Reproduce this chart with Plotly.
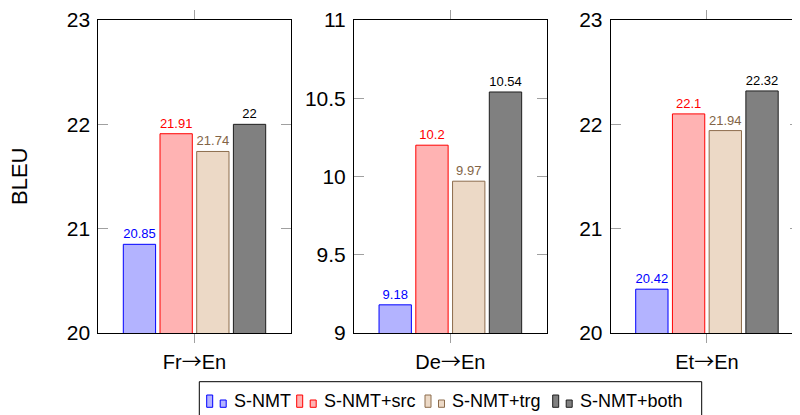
import plotly.graph_objects as go

# ---------------- data ----------------
pairs = ["Fr→En", "De→En", "Et→En"]
series_names = ["S-NMT", "S-NMT+src", "S-NMT+trg", "S-NMT+both"]
snmt = [20.85, 9.18, 20.42]
snmt_src = [21.91, 10.2, 22.1]
snmt_trg = [21.74, 9.97, 21.94]
snmt_both = [22, 10.54, 22.32]
y_ranges = [[20, 23], [9, 11], [20, 23]]
y_dticks = [1, 0.5, 1]
y_title = "BLEU"

# ---------------- styles ----------------
OFF = 8                      # page body margin of the browser
W, H = 800 - OFF, 415 - OFF
PLOT_TOP, PLOT_BOTTOM = 20 - OFF, 333 - OFF
FONT = "Liberation Sans, Arial, sans-serif"
fills = ["rgb(179,179,255)", "rgb(255,179,179)", "rgb(236,217,198)", "rgb(128,128,128)"]
lines = ["rgb(0,0,255)", "rgb(255,0,0)", "rgb(140,108,76)", "rgb(30,30,30)"]
txtcol = ["rgb(0,0,255)", "rgb(255,0,0)", "rgb(130,100,70)", "rgb(0,0,0)"]
panel_screen = [(98.3, 290.7), (354.0, 546.7), (610.7, 800.0)]
full_w = 192.5


def sx(x):
    return (x - OFF) / W


def sy(y):
    return (PLOT_BOTTOM - (y - OFF)) / (PLOT_BOTTOM - PLOT_TOP)


def label_html(t):
    return t.replace("→", "<span style='font-family:Noto Sans CJK SC'>→</span>")


values = [snmt, snmt_src, snmt_trg, snmt_both]

fig = go.Figure()
for p in range(3):
    ax = "" if p == 0 else str(p + 1)
    for s in range(4):
        v = values[s][p]
        fig.add_trace(go.Bar(
            x=[pairs[p]], y=[v], name=series_names[s],
            xaxis="x" + ax, yaxis="y" + ax,
            marker=dict(color=fills[s], line=dict(color=lines[s], width=1)),
            text=[f"{v:g}"], textposition="outside", constraintext="none",
            textfont=dict(color=txtcol[s], size=13, family=FONT),
            cliponaxis=False, showlegend=False, hoverinfo="x+y+name",
        ))

layout = dict(
    width=W, height=H,
    margin=dict(l=0, r=0, t=PLOT_TOP, b=H - PLOT_BOTTOM),
    paper_bgcolor="white", plot_bgcolor="white",
    barmode="group", bargap=0.237, bargroupgap=0.12,
    font=dict(family=FONT, size=21, color="black"),
    showlegend=False,
)
for p in range(3):
    ax = "" if p == 0 else str(p + 1)
    x0, x1 = panel_screen[p]
    xr_hi = -0.5 + (x1 - x0) / full_w if p == 2 else 0.5
    layout["xaxis" + ax] = dict(
        domain=[sx(x0), min(1.0, sx(x1))], anchor="y" + ax,
        type="category", range=[-0.5, xr_hi],
        tickvals=[pairs[p]], ticktext=[label_html(pairs[p])],
        showline=True, linecolor="black", linewidth=1, mirror="ticks",
        ticks="outside", ticklen=9, tickcolor="rgb(160,160,160)", tickwidth=1,
        tickfont=dict(size=20), ticklabelstandoff=2,
        showgrid=False, zeroline=False, fixedrange=True,
    )
    layout["yaxis" + ax] = dict(
        domain=[0, 1], anchor="x" + ax,
        range=y_ranges[p], dtick=y_dticks[p], tick0=y_ranges[p][0],
        showline=True, linecolor="black", linewidth=1, mirror="ticks",
        ticks="inside", ticklen=10, tickcolor="rgb(160,160,160)", tickwidth=1,
        tickfont=dict(size=21), ticklabelstandoff=3,
        showgrid=False, zeroline=False, fixedrange=True,
    )
fig.update_layout(**layout)

fig.add_annotation(xref="paper", yref="paper", x=sx(19), y=sy(177),
                   text=y_title, textangle=-90, showarrow=False,
                   xanchor="center", yanchor="middle",
                   font=dict(size=22, family=FONT, color="black"))

# ---------------- custom legend ----------------
fig.add_shape(type="rect", xref="paper", yref="paper",
              x0=sx(199.3), x1=sx(701.7), y0=sy(381.7), y1=sy(440),
              line=dict(color="black", width=1), fillcolor="white", layer="above")
icon_left = [206.7, 296.7, 425.0, 552.7]
text_left = [231.7, 321.7, 450.0, 578.3]
for s in range(4):
    xa = icon_left[s]
    fig.add_shape(type="rect", xref="paper", yref="paper",
                  x0=sx(xa), x1=sx(xa + 6), y0=sy(407.3), y1=sy(395),
                  line=dict(color=lines[s], width=1), fillcolor=fills[s], layer="above")
    fig.add_shape(type="rect", xref="paper", yref="paper",
                  x0=sx(xa + 13.5), x1=sx(xa + 19.5), y0=sy(407.3), y1=sy(400),
                  line=dict(color=lines[s], width=1), fillcolor=fills[s], layer="above")
    fig.add_annotation(xref="paper", yref="paper", x=sx(text_left[s]), y=sy(401),
                       text=series_names[s], showarrow=False, xanchor="left", yanchor="middle",
                       font=dict(size=18, family=FONT, color="black"))

fig.write_html("out.html")
